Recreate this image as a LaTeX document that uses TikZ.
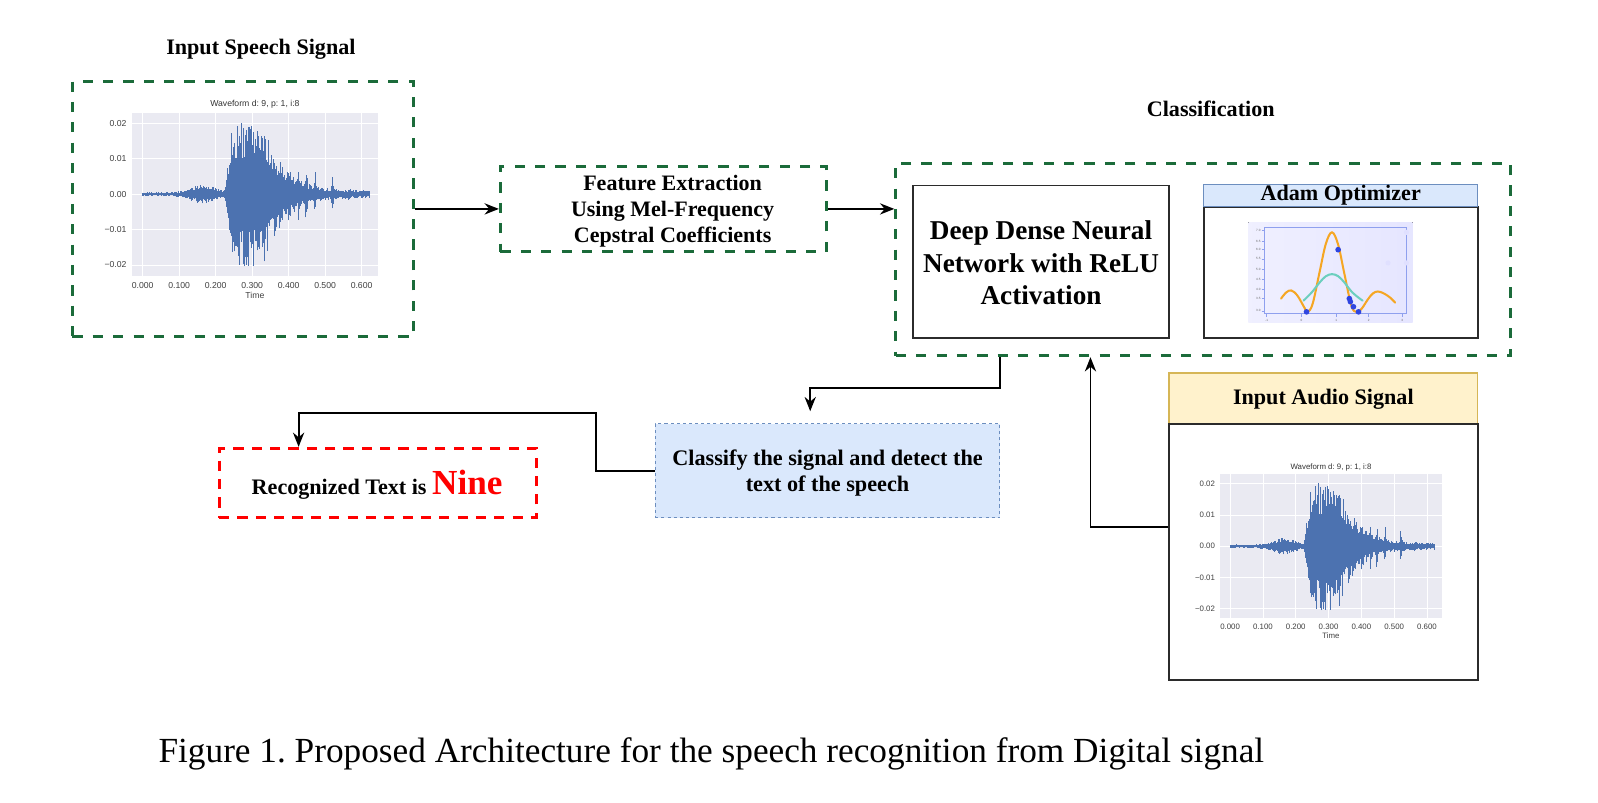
\documentclass[tikz,border=0pt]{standalone}
\usepackage{fontspec}
\setmainfont{Liberation Serif}
\newfontfamily\plotfont{Liberation Sans}
\usetikzlibrary{arrows.meta,calc}
\definecolor{dgreen}{HTML}{1B6B3A}
\definecolor{bfill}{HTML}{DAE8FC}
\definecolor{bline}{HTML}{6C8EBF}
\definecolor{yfill}{HTML}{FFF2CC}
\definecolor{yline}{HTML}{D6B656}
\definecolor{wavec}{HTML}{4C72B0}
\definecolor{plotbg}{HTML}{EAEAF2}
\definecolor{orangec}{HTML}{F5A623}
\definecolor{tealc}{HTML}{6CCFBE}
\definecolor{dotc}{HTML}{2F45E0}
\definecolor{axc}{HTML}{8FA0EE}
\definecolor{kline}{HTML}{2B2B2B}
\frenchspacing

\newcommand\waveplot[7]{%
\begin{scope}[shift={(#1,#2)}, x=#3pt, y=#4pt]
 \fill[plotbg] (-30,-23) rectangle (645,23);
 \foreach \gx in {0,100,...,600} \draw[white, line width=0.7pt] (\gx,-23) -- (\gx,23);
 \foreach \gy in {-20,-10,0,10,20} \draw[white, line width=0.7pt] (-30,\gy) -- (645,\gy);
 \pgfmathsetseed{#6}
 \foreach \wt in {0,1.5,...,621}{%
  \pgfmathsetmacro\env{(\wt<225)*(0.6+2.2*exp(-((\wt-165)/45)^2)) + (\wt>=225)*(\wt<245)*(2+(\wt-225)*0.9) + (\wt>=245)*(\wt<330)*(20.5) + (\wt>=330)*(1.0+19*exp(-(\wt-330)/55)) + 5*max(0,1-abs(\wt-378)/4) + 4*max(0,1-abs(\wt-402)/4) + 4*max(0,1-abs(\wt-428)/4) + 5*max(0,1-abs(\wt-448)/4) + 5*max(0,1-abs(\wt-472)/4) + 4.5*max(0,1-abs(\wt-520)/5) + 1*max(0,1-abs(\wt-565)/5)}%
  \pgfmathsetmacro\ya{\env*(0.5+0.5*rnd^2)}%
  \pgfmathsetmacro\yb{-\env*(0.5+0.5*rnd^2)}%
  \draw[wavec, line width=0.6pt] (\wt,\yb) -- (\wt,\ya);
 }
 \foreach \lab/\yy [count=\i] in {0.02/20,0.01/10,0.00/0,{−0.01}/-10,{−0.02}/-20}
   \node[anchor=east, inner sep=0, font=\plotfont\fontsize{#5}{#5}\selectfont, text=black!75] (yl#7\i) at ([xshift=-5pt]-30,\yy) {\lab};
 \foreach \lab/\xx [count=\i] in {0.000/0,0.100/100,0.200/200,0.300/300,0.400/400,0.500/500,0.600/600}
   \node[inner sep=0, font=\plotfont\fontsize{#5}{#5}\selectfont, text=black!75] (xl#7\i) at (\xx,-25.8) {\lab};
 \node[inner sep=0, font=\plotfont\fontsize{#5}{#5}\selectfont, text=black!75] (tm#7) at (307.5,-28.7) {Time};
 \node[inner sep=0, font=\plotfont\fontsize{#5}{#5}\selectfont, text=black!80] (ti#7) at (307.5,25.3) {Waveform d: 9, p: 1, i:8};
\end{scope}}

\begin{document}
\begin{tikzpicture}[x=1pt,y=-1pt,
  gbox/.style={draw=dgreen, line width=3pt, dash pattern=on 10pt off 10pt},
  kbox/.style={draw=kline, line width=1.8pt, fill=white},
  arr/.style={-{Stealth[length=14pt,width=11pt]}, line width=1.8pt, draw=black},
  btxt/.style={font=\bfseries\fontsize{21.7}{26}\selectfont, align=center, inner sep=0},
  ttxt/.style={font=\fontsize{3}{3}\selectfont\plotfont, inner sep=0, text=black!60}]
\fill[white] (0,0) rectangle (1568,787);
\useasboundingbox (0,0) rectangle (1568,787);

% ---------- input speech signal ----------
\node[btxt] (t1) at (256,48) {Input Speech Signal};
\node[gbox, minimum width=335pt, minimum height=250pt] (in) at (238.5,205) {};
\waveplot{140}{190.5}{0.358}{3.475}{8.5}{11}{a}

% ---------- feature extraction ----------
\node[gbox, minimum width=320pt, minimum height=84pt] (feat) at (651,205) {};
\node[btxt, font=\bfseries\fontsize{21.6}{25.5}\selectfont] (ftext) at (660,207) {Feature Extraction\\Using Mel-Frequency\\Cepstral Coefficients};

% ---------- classification ----------
\node[btxt] (t2) at (1188,107) {Classification};
\node[gbox, minimum width=603pt, minimum height=189pt] (cls) at (1180.5,254.5) {};
\node[kbox, minimum width=251pt, minimum height=150pt] (dnn) at (1021.5,257) {};
\node[btxt, font=\bfseries\fontsize{26.7}{32}\selectfont] (dnntext) at (1021.5,258) {Deep Dense Neural\\Network with ReLU\\Activation};
\node[kbox, minimum width=269pt, minimum height=129pt] (adam) at (1315.5,267.5) {};
\node[draw=bline, fill=bfill, line width=1.2pt, minimum width=269pt, minimum height=22pt] (adamh) at (1315.5,192) {};
\node[btxt] (adamt) at (1315.5,192) {Adam Optimizer};

% Adam plot
\fill[left color=blue!6, right color=blue!10] (1225,218) rectangle (1386,316);
\draw[axc, line width=0.9pt] (1241,223) rectangle (1380,308);
\foreach \lab/\yy [count=\i] in {7.0/226,6.5/237,6.0/245,5.5/254,5.0/264,4.5/274,4.0/284,3.5/293,3.0/305}{
  \draw[axc, line width=0.6pt] (1238,\yy) -- (1241,\yy);
  \node[ttxt, anchor=east] (ay\i) at (1237,\yy) {\lab};}
\foreach \lab/\xx [count=\i] in {-1/1243,0/1277,1/1311,2/1343,3/1376}{
  \draw[axc, line width=0.6pt] (\xx,308) -- (\xx,311);
  \node[ttxt] (ax\i) at (\xx,314) {\lab};}
\fill[blue!12] (1362,258) circle (2.5) (1380,258) circle (2.5) (1380,228) circle (2.5);
\draw[orangec, line width=2pt, line cap=round] plot[smooth, tension=0.6] coordinates {(1257,293) (1262,287) (1267,285) (1273,290) (1280,302) (1283,306) (1288,298) (1295,266) (1301,239) (1307,228) (1313,240) (1319,268) (1326,300) (1331,306) (1336,303) (1342,294) (1347,288) (1352,286) (1358,288) (1364,292) (1369,297)};
\draw[tealc, line width=2pt, line cap=round] plot[smooth, tension=0.6] coordinates {(1279,295) (1287,287) (1295,277) (1301,271) (1307,269) (1313,271) (1319,277) (1327,287) (1337,295)};
\fill[dotc] (1282,306) circle (2.8) (1313,245) circle (2.8) (1324,293) circle (2.8) (1325,296) circle (2.8) (1328,301) circle (2.8) (1333,306) circle (2.8);

% ---------- input audio signal ----------
\node[draw=yline, fill=yfill, line width=1.2pt, minimum width=303pt, minimum height=50pt] (audh) at (1298.5,391) {};
\node[btxt] (audt) at (1298.5,392) {Input Audio Signal};
\node[kbox, minimum width=303pt, minimum height=251pt] (aud) at (1298.5,541.5) {};
\waveplot{1207}{536}{0.322}{3.07}{7.7}{11}{b}

% ---------- classify / recognized ----------
\node[draw=bline, fill=bfill, line width=1pt, dash pattern=on 3pt off 3pt, minimum width=338pt, minimum height=92pt] (blue) at (812,462) {};
\node[btxt, font=\bfseries\fontsize{21.8}{26}\selectfont] (bluet) at (812,464) {Classify the signal and detect the\\text of the speech};
\node[draw=red, line width=3pt, dash pattern=on 10pt off 8pt, minimum width=311pt, minimum height=68pt] (red) at (370.5,474) {};
\node[btxt] (redt) at (370,476) {Recognized Text is \textcolor{red}{\fontsize{34.5}{36}\selectfont Nine}};

% ---------- connectors ----------
\draw[arr] (in.east) -- (feat.west);
\draw[arr] (feat.east) -- (feat.east -| cls.west);
\coordinate (d1) at (795,381);
\draw[arr, shorten >=12pt] (cls.south -| blue.east) |- (d1) -- (d1 |- blue.north);
\draw[arr] ([yshift=24.5pt]aud.west) -| ([xshift=-110.5pt]cls.south);
\draw[arr] (blue.west) -- ++(-58,0) |- ([xshift=-77.5pt, yshift=33pt]red.north) -- ([xshift=-77.5pt]red.north);

% ---------- caption ----------
\node[font=\fontsize{34.6}{40}\selectfont, inner sep=0] (cap) at (698,740) {Figure 1. Proposed Architecture for the speech recognition from Digital signal};
\end{tikzpicture}
\end{document}
